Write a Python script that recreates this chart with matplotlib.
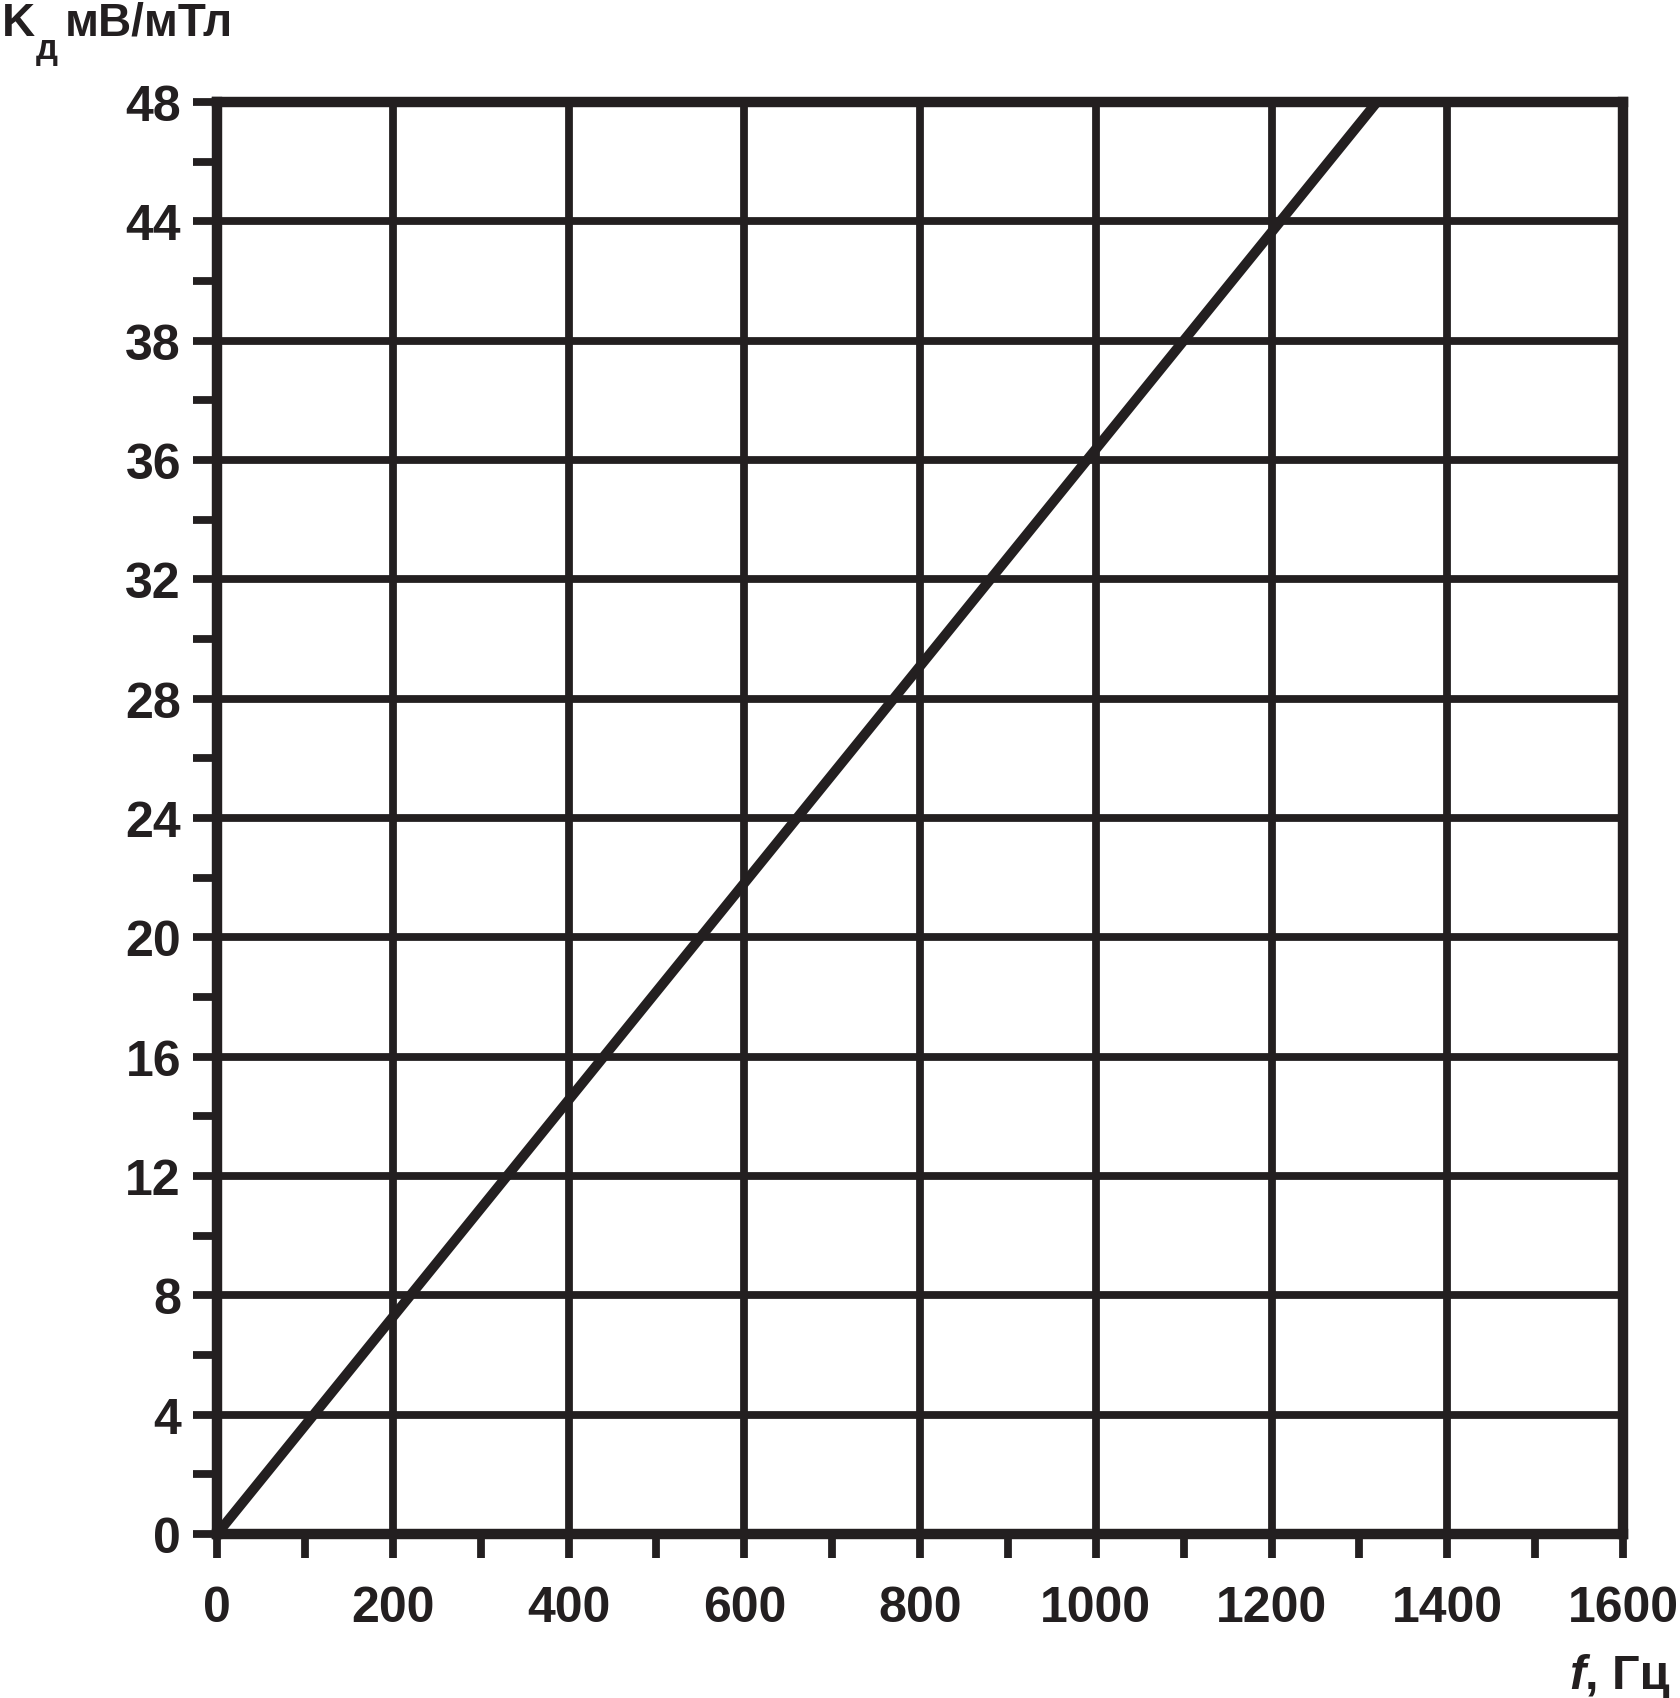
"""
Sensitivity K_d (mV/mT) of the sensor versus frequency f (Hz).
Straight-line dependence on a heavy square grid.
"""

import numpy as np
import matplotlib.pyplot as plt

# ------------------------------------------------------------------
FREQ = [0, 1320]          # Гц
K_D  = [0, 48]            # мВ/мТл

X_MAJOR = [0, 200, 400, 600, 800, 1000, 1200, 1400, 1600]
X_MINOR = [100, 300, 500, 700, 900, 1100, 1300, 1500]
Y_MAJOR = [0, 4, 8, 12, 16, 20, 24, 28, 32, 36, 40, 44, 48]
Y_LABELS = ["0", "4", "8", "12", "16", "20", "24", "28", "32", "36", "38", "44", "48"]
Y_MINOR = [2, 6, 10, 14, 18, 22, 26, 30, 34, 38, 42, 46]

INK = "#231f20"
FONT = "Liberation Sans"
# ------------------------------------------------------------------

plt.rcParams["font.family"] = [FONT, "DejaVu Sans"]
plt.rcParams["font.weight"] = "bold"

fig = plt.figure(figsize=(16.8, 16.99), dpi=100)
ax = fig.add_axes([0.1292, 0.0965, 0.9661 - 0.1292, 0.9394 - 0.0965])

ax.set_xlim(0, 1600)
ax.set_ylim(0, 48)

# grid
for x in X_MAJOR[1:-1]:
    ax.axvline(x, color=INK, lw=5.6, zorder=1)
for y in Y_MAJOR[1:-1]:
    ax.axhline(y, color=INK, lw=5.6, zorder=1)

ax.plot(FREQ, K_D, color=INK, lw=7.2, solid_capstyle="butt", zorder=2)

for s in ax.spines.values():
    s.set_linewidth(7.5)
    s.set_color(INK)
    s.set_zorder(3)

ax.set_xticks(X_MAJOR)
ax.set_xticks(X_MINOR, minor=True)
ax.set_yticks(Y_MAJOR)
ax.set_yticklabels(Y_LABELS)
ax.set_yticks(Y_MINOR, minor=True)

ax.tick_params(axis="both", which="both", direction="out", length=17,
               width=5.6, color=INK)
ax.tick_params(axis="x", which="major", pad=20, labelsize=36, labelcolor=INK)
ax.tick_params(axis="y", which="major", pad=9, labelsize=36, labelcolor=INK)
for lab in ax.get_xticklabels() + ax.get_yticklabels():
    lab.set_fontweight("bold")

# y axis title: K with subscript д, then units
t1 = fig.text(0.001, 1 - 36 / 1699, "K", fontsize=33, fontweight="bold",
              color=INK, ha="left", va="baseline")
t2 = ax.annotate("д", xy=(1, 0), xycoords=t1, xytext=(1, -9),
                 textcoords="offset points", fontsize=25, fontweight="bold",
                 color=INK, ha="left", va="baseline", annotation_clip=False)
ax.annotate("мВ/мТл", xy=(1, 0), xycoords=(t2, t1), xytext=(5, 0),
            textcoords="offset points", fontsize=33, fontweight="bold",
            color=INK, ha="left", va="bottom", annotation_clip=False)

# x axis title: italic f, then ", Гц"
t3 = fig.text(0.994, 1 - 1689 / 1699, ", Гц", fontsize=35, fontweight="bold",
              color=INK, ha="right", va="baseline")
ax.annotate("f", xy=(0, 0), xycoords=t3, fontsize=35, fontweight="bold",
            fontstyle="italic", color=INK, ha="right", va="bottom",
            annotation_clip=False)

fig.savefig("out.png", dpi=100)
